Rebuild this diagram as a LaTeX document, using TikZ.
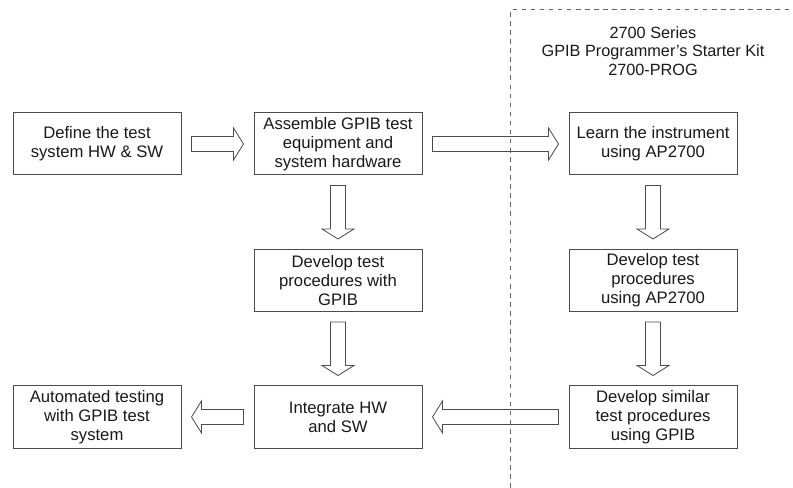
\documentclass[tikz,border=0pt]{standalone}
\usepackage{fontspec}
\setmainfont{Liberation Sans}
\usetikzlibrary{calc}

\begin{document}
\begin{tikzpicture}[
    x=0.75pt, y=0.75pt,
    every node/.style={font=\fontsize{12.5}{14.2}\selectfont, text=black!90},
    box/.style={rectangle, draw=black!70, line width=0.75pt, minimum width=126pt,
                minimum height=46.5pt, inner sep=2pt, align=center},
    fat/.style={draw=black!70, line width=0.6pt, line join=miter,
      to path={let \p1=($(\tikztotarget)-(\tikztostart)$),
                   \n1={veclen(\x1,\y1)}, \n2={atan2(\y1,\x1)} in
        ($(\tikztostart)+(\n2:7.5pt)+(\n2+90:5.6pt)$)
        -- ++(\n2:{\n1-22.5pt}) -- ++(\n2+90:6.4pt)
        -- ++(\n2-58:14.15pt) -- ++(\n2-122:14.15pt)
        -- ++(\n2+90:6.4pt) -- ++(\n2+180:{\n1-22.5pt}) -- cycle}},
    frame/.style={draw=black!60, line width=0.75pt, dash pattern=on 3.4pt off 3.4pt},
  ]
  \useasboundingbox (0,0) rectangle (793,-488);
  % left part
  \node[box] (def) at (97,-144) {Define the test\\system HW \& SW};
  \node[box] (asm) at (338,-144) {Assemble GPIB test\\equipment and\\system hardware};
  \node[box] (dgp) at (338,-280.5) {Develop test\\procedures with\\GPIB};
  \node[box] (intg) at (338,-417) {Integrate HW\\and SW};
  \node[box] (aut) at (97,-417) {Automated testing\\with GPIB test\\system};
  % starter kit part
  \node[align=center, font=\fontsize{12.2}{14}\selectfont] (kit) at (653,-51)
    {2700 Series\\GPIB Programmer's Starter Kit\\2700-PROG};
  \node[box] (lrn) at (653,-144) {Learn the instrument\\using AP2700};
  \node[box] (dap) at (653,-280.5) {Develop test\\procedures\\using AP2700};
  \node[box] (sim) at (653,-417) {Develop similar\\test procedures\\using GPIB};
  \draw[frame] (510,-488) |- (793,-10);
  \draw[fat] (def.east) to (asm.west);
  \draw[fat] (asm.east) to (lrn.west);
  \draw[fat] (asm.south) to (dgp.north);
  \draw[fat] (dgp.south) to (intg.north);
  \draw[fat] (lrn.south) to (dap.north);
  \draw[fat] (dap.south) to (sim.north);
  \draw[fat] (sim.west) to (intg.east);
  \draw[fat] (intg.west) to (aut.east);
\end{tikzpicture}
\end{document}
